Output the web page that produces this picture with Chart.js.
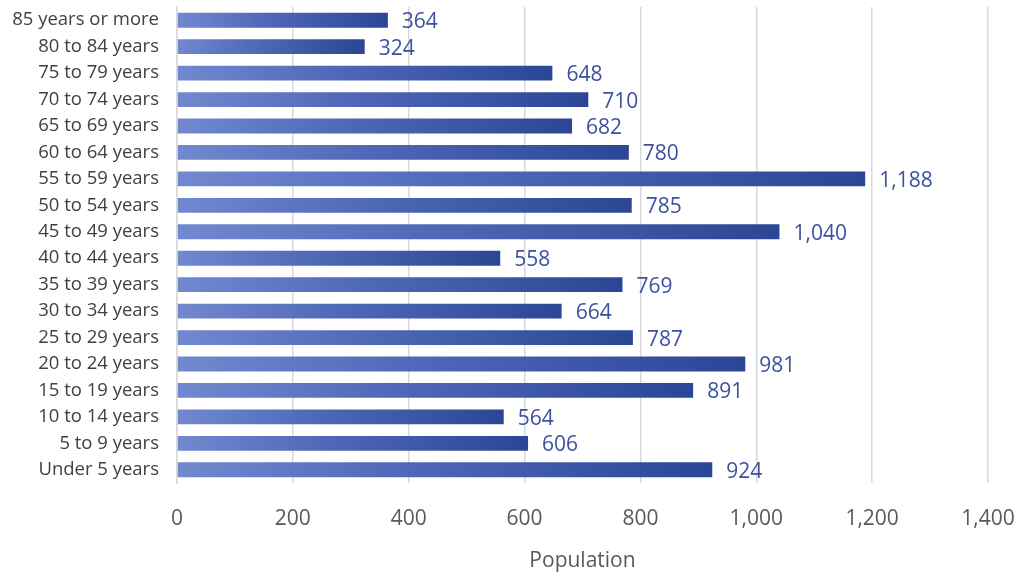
<!DOCTYPE html>
<html>
<head>
<meta charset="utf-8">
<script src="https://cdn.jsdelivr.net/npm/chart.js@4/dist/chart.umd.min.js"></script>
<style>
html,body{margin:0;padding:0;background:#fff;}
#wrap{width:1022px;height:574px;}
</style>
</head>
<body>
<div id="wrap"><canvas id="c" width="1022" height="574"></canvas></div>
<script>
const categories = ["85 years or more","80 to 84 years","75 to 79 years","70 to 74 years","65 to 69 years","60 to 64 years","55 to 59 years","50 to 54 years","45 to 49 years","40 to 44 years","35 to 39 years","30 to 34 years","25 to 29 years","20 to 24 years","15 to 19 years","10 to 14 years","5 to 9 years","Under 5 years"];
const population = [364,324,648,710,682,780,1188,785,1040,558,769,664,787,981,891,564,606,924];
const xMin = 0, xMax = 1400, xStep = 200;
const axisTitle = "Population";

const FONT = "'Open Sans', 'Noto Sans', sans-serif";

const labelPlugin = {
  id: 'barLabels',
  afterDatasetsDraw(chart) {
    const ctx = chart.ctx;
    const meta = chart.getDatasetMeta(0);
    ctx.save();
    ctx.font = "21px " + FONT;
    ctx.fillStyle = "#3d519e";
    ctx.textAlign = "left";
    ctx.textBaseline = "middle";
    meta.data.forEach((bar, i) => {
      ctx.fillText(population[i].toLocaleString('en-US'), bar.x + 14, bar.y + 2);
    });
    ctx.restore();
  }
};

new Chart(document.getElementById('c'), {
  type: 'bar',
  data: {
    labels: categories,
    datasets: [{
      data: population,
      backgroundColor: (c) => {
        const chart = c.chart;
        const area = chart.chartArea;
        if (!area || c.type !== 'data') return '#3f58ab';
        const xs = chart.scales.x;
        const x0 = xs.getPixelForValue(0);
        const x1 = xs.getPixelForValue(c.raw);
        const g = chart.ctx.createLinearGradient(x0, 0, x1, 0);
        g.addColorStop(0, '#7289d0');
        g.addColorStop(0.45, '#4d66b6');
        g.addColorStop(1, '#2c4696');
        return g;
      },
      borderWidth: 0,
      barPercentage: 0.56,
      categoryPercentage: 1.0
    }]
  },
  options: {
    indexAxis: 'y',
    responsive: false,
    animation: false,
    devicePixelRatio: 1,
    layout: { padding: { left: 0, right: 34, top: 7, bottom: 0 } },
    plugins: { legend: { display: false }, tooltip: { enabled: false } },
    scales: {
      x: {
        min: xMin, max: xMax,
        ticks: { stepSize: xStep, color: '#595959', font: { family: FONT, size: 21 }, padding: 23,
          callback: v => Number(v).toLocaleString('en-US') },
        grid: { color: '#d9d9d9', lineWidth: 1.5, drawTicks: false },
        border: { display: false },
        title: { display: true, text: axisTitle, color: '#595959', font: { family: FONT, size: 21 }, padding: { top: 6, bottom: 0 } },
        afterFit: s => { s.height = 91; s.paddingLeft = 0; s.paddingRight = 0; }
      },
      y: {
        ticks: { color: '#404040', font: { family: FONT, size: 18.5 }, padding: 18, autoSkip: false },
        grid: { display: false, drawTicks: false },
        border: { display: true, color: '#d9d9d9', width: 1.5 },
        afterFit: s => { s.width = 177; s.paddingTop = 0; s.paddingBottom = 0; }
      }
    }
  },
  plugins: [labelPlugin]
});
</script>
</body>
</html>
